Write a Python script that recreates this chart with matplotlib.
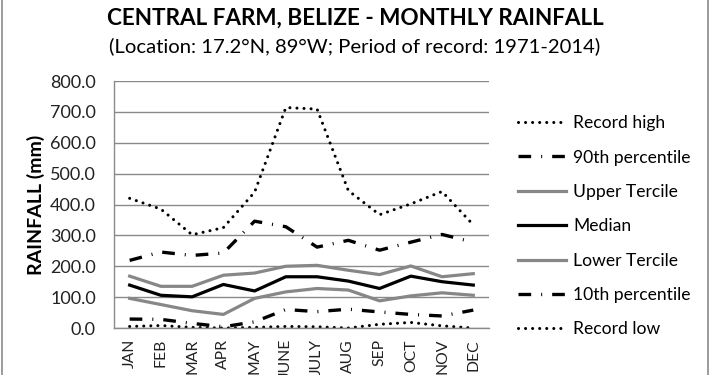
import matplotlib
matplotlib.use("Agg")
import matplotlib.pyplot as plt
from matplotlib.lines import Line2D

plt.rcParams['font.family'] = ['Lato', 'DejaVu Sans']

months = ["JAN", "FEB", "MAR", "APR", "MAY", "JUNE", "JULY", "AUG", "SEP", "OCT", "NOV", "DEC"]
record_high = [420, 385, 302, 325, 440, 714, 709, 445, 367, 402, 442, 334]
p90 = [219, 246, 235, 243, 346, 328, 262, 284, 252, 278, 303, 278]
upper_tercile = [168, 135, 135, 171, 178, 200, 203, 187, 173, 201, 166, 176]
median = [139, 106, 101, 141, 120, 166, 166, 152, 128, 168, 150, 139]
lower_tercile = [96, 76, 56, 44, 96, 117, 128, 123, 88, 104, 114, 106]
p10 = [29, 28, 15, 4, 20, 60, 53, 61, 52, 44, 39, 58]
record_low = [5, 8, 2, 0, 2, 5, 4, 0, 12, 18, 7, 0]
yticks = [0, 100, 200, 300, 400, 500, 600, 700, 800]

fig = plt.figure(figsize=(7.1, 3.75), dpi=100)
ax = fig.add_axes([0.1606, 0.1253, 0.528, 0.6587])

x = list(range(len(months)))
gray = "#878787"
dot = (0, (0.01, 2.3))
dashdot = (0, (3.8, 3.0, 0.3, 3.0))

ax.plot(x, record_high, color="black", lw=2.2, ls=dot, dash_capstyle="round", label="Record high")
ax.plot(x, p90, color="black", lw=2.4, ls=dashdot, dash_capstyle="butt", label="90th percentile")
ax.plot(x, upper_tercile, color=gray, lw=2.3, label="Upper Tercile")
ax.plot(x, median, color="black", lw=2.3, label="Median")
ax.plot(x, lower_tercile, color=gray, lw=2.3, label="Lower Tercile")
ax.plot(x, p10, color="black", lw=2.4, ls=dashdot, dash_capstyle="butt", label="10th percentile")
ax.plot(x, record_low, color="black", lw=2.2, ls=dot, dash_capstyle="round", label="Record low")

ax.set_xlim(-0.5, len(months) - 0.5)
ax.set_ylim(0, 800)
ax.set_yticks(yticks)
ax.set_yticklabels([f"{v:.1f}" for v in yticks], fontsize=13, color="#222222")
ax.set_xticks(x)
ax.set_xticklabels(months, rotation=90, fontsize=11.3, color="#222222")
ax.tick_params(axis="y", length=0, pad=13)
ax.tick_params(axis="x", length=0, pad=8)
ax.grid(axis="y", color="#8a8a8a", lw=1.0)
ax.set_axisbelow(True)
for s in ["top", "right"]:
    ax.spines[s].set_visible(False)
for s in ["left", "bottom"]:
    ax.spines[s].set_color("#8a8a8a")
    ax.spines[s].set_linewidth(1.0)

ax.set_ylabel("RAINFALL (mm)", fontsize=14, fontweight="bold", labelpad=4)

leg = ax.legend(loc="upper left", bbox_to_anchor=(1.059, 0.89), frameon=False,
                fontsize=12.6, handlelength=2.77, handletextpad=0.4, labelspacing=1.05,
                borderaxespad=0)

fig.text(0.5, 0.952, "CENTRAL FARM, BELIZE - MONTHLY RAINFALL", ha="center", va="center",
         fontsize=16.2, fontweight="bold")
fig.text(0.5, 0.877, "(Location: 17.2°N, 89°W; Period of record: 1971-2014)", ha="center",
         va="center", fontsize=14.6)

fig.add_artist(Line2D([0.003, 0.003], [0, 1], transform=fig.transFigure, color="#8a8a8a", lw=1.2))
fig.add_artist(Line2D([0.997, 0.997], [0, 1], transform=fig.transFigure, color="#8a8a8a", lw=1.2))

fig.savefig("out.png", dpi=100)
